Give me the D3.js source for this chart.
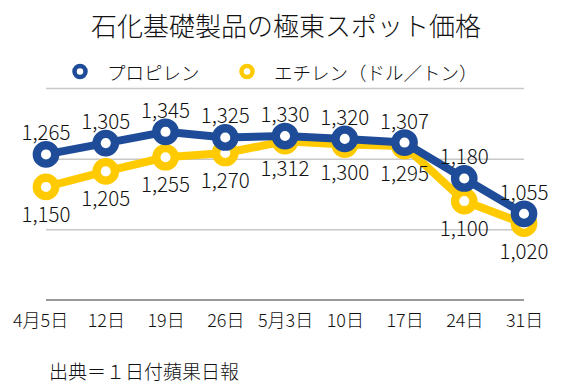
<!DOCTYPE html>
<html><head><meta charset="utf-8">
<script src="https://cdn.jsdelivr.net/npm/d3@7"></script>
<style>html,body{margin:0;padding:0;background:#fff;}svg{display:block;font-family:"Noto Sans CJK JP","Noto Sans",sans-serif;font-weight:300;}</style>
</head><body>
<script>
const title = "石化基礎製品の極東スポット価格";
const source = "出典＝１日付蘋果日報";
const categories = ["4月5日","12日","19日","26日","5月3日","10日","17日","24日","31日"];
const propylene = [1265,1305,1345,1325,1330,1320,1307,1180,1055];
const ethylene = [1150,1205,1255,1270,1312,1300,1295,1100,1020];
const seriesNames = ["プロピレン","エチレン（ドル／トン）"];
const yTicks = [750,1000,1250,1500];

const W=566,H=383;
const svg=d3.select("body").append("svg").attr("width",W).attr("height",H);
const x=d3.scalePoint().domain(categories).range([46,524]);
const y=d3.scaleLinear().domain([750,1500]).range([300,88]);
const blue="#1E4C98", yellow="#FFCB00";

svg.append("text").attr("x",286).attr("y",24).attr("text-anchor","middle")
  .attr("dominant-baseline","central").attr("font-size",26).attr("fill","#111").text(title);

// gridlines
const yAxis=d3.axisLeft(y).tickValues(yTicks.slice(1)).tickSize(-(524-46)).tickFormat("");
const gy=svg.append("g").attr("transform","translate(46,0)").call(yAxis);
gy.select(".domain").remove();
gy.selectAll("line").attr("stroke","#c8c8c8").attr("stroke-width",1.5);

// x axis
const xAxis=d3.axisBottom(x).tickSize(0).tickPadding(14);
const gx=svg.append("g").attr("transform",`translate(0,${y(750)})`).call(xAxis)
  .attr("font-family",null).attr("font-size",18);
gx.select(".domain").attr("d",`M46,0H524`).attr("stroke","#777").attr("stroke-width",1.5);
gx.selectAll("text").attr("fill","#111").attr("dx",(d,i)=>i===0?-6:0);

const line=d3.line().x((d,i)=>x(categories[i])).y(d=>y(d));
function drawSeries(vals,color){
  const g=svg.append("g");
  g.append("path").datum(vals).attr("d",line).attr("fill","none").attr("stroke",color)
    .attr("stroke-width",8).attr("stroke-linejoin","round");
  g.selectAll("circle").data(vals).join("circle")
    .attr("cx",(d,i)=>x(categories[i])).attr("cy",d=>y(d)).attr("r",9.2)
    .attr("fill","#fff").attr("stroke",color).attr("stroke-width",8.3);
  return g;
}
function drawLabels(vals,labelDy){
  svg.append("g").selectAll("text").data(vals).join("text")
    .attr("x",(d,i)=>x(categories[i])).attr("y",d=>y(d)+labelDy)
    .attr("text-anchor","middle").attr("dominant-baseline","central")
    .attr("font-size",20.5).attr("fill","#111").text(d=>d3.format(",")(d));
}
drawSeries(ethylene,yellow);
drawSeries(propylene,blue);
drawLabels(ethylene,26);
drawLabels(propylene,-23);

// legend
const leg=[{name:seriesNames[0],color:blue,x:80},{name:seriesNames[1],color:yellow,x:247}];
const lg=svg.append("g");
leg.forEach(l=>{
  lg.append("circle").attr("cx",l.x).attr("cy",71.5).attr("r",5.5).attr("fill","#fff")
    .attr("stroke",l.color).attr("stroke-width",4.5);
  lg.append("text").attr("x",l.x+27).attr("y",71.5).attr("dominant-baseline","central")
    .attr("font-size",18.5).attr("fill","#111").text(l.name);
});

svg.append("text").attr("x",49).attr("y",370).attr("dominant-baseline","central")
  .attr("font-size",19).attr("fill","#111").text(source);
</script>
</body></html>
